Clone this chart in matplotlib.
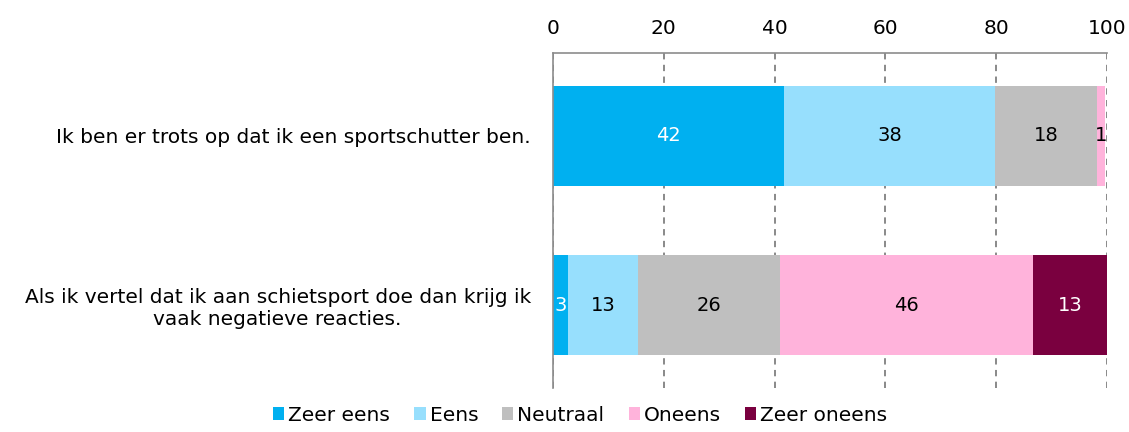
import matplotlib.pyplot as plt
import numpy as np

categories = ["Ik ben er trots op dat ik een sportschutter ben.",
              "Als ik vertel dat ik aan schietsport doe dan krijg ik\nvaak negatieve reacties."]
series = ["Zeer eens", "Eens", "Neutraal", "Oneens", "Zeer oneens"]
values = [[41.7, 2.7],
          [38.1, 12.6],
          [18.4, 25.7],
          [1.4, 45.7],
          [0.0, 13.4]]
colors = ["#00B0F0", "#97DFFD", "#BFBFBF", "#FFB3DB", "#7A003F"]
text_colors = ["white", "black", "black", "black", "white"]

plt.rcParams['font.family'] = 'DejaVu Sans'
fig = plt.figure(figsize=(11.29, 4.32), dpi=100)
ax = fig.add_axes([0.4898, 0.1019, 0.4907, 0.7754])

y = np.arange(len(categories))
left = np.zeros(len(categories))
for name, vals, c, tc in zip(series, values, colors, text_colors):
    vals = np.array(vals)
    ax.barh(y, vals, left=left, height=0.59, color=c, label=name, zorder=2)
    for yi, v, l in zip(y, vals, left):
        if v > 0:
            ax.text(l + v / 2, yi, f"{v:.0f}", ha='center', va='center',
                    color=tc, fontsize=14, zorder=3)
    left += vals

ax.set_xlim(0, 100)
ax.set_ylim(1.49, -0.49)
ax.set_xticks(np.arange(0, 101, 20))
ax.xaxis.tick_top()
ax.tick_params(axis='x', length=0, labelsize=14.5, pad=11)
ax.set_yticks(y)
ax.set_yticklabels(categories, fontsize=14.5, multialignment='center')
ax.tick_params(axis='y', length=0, pad=16)
ax.grid(axis='x', linestyle=(0, (3.5, 3)), color='#808080', linewidth=1.3, zorder=1)
for s in ['right', 'bottom']:
    ax.spines[s].set_visible(False)
for s in ['top', 'left']:
    ax.spines[s].set_color('#8C8C8C')
    ax.spines[s].set_linewidth(1.2)

fig.legend(loc='lower center', bbox_to_anchor=(0.514, -0.025), ncol=5, frameon=False,
           fontsize=14.5, handlelength=0.55, handleheight=0.55, handletextpad=0.2,
           columnspacing=1.2)

plt.savefig('out.png')
